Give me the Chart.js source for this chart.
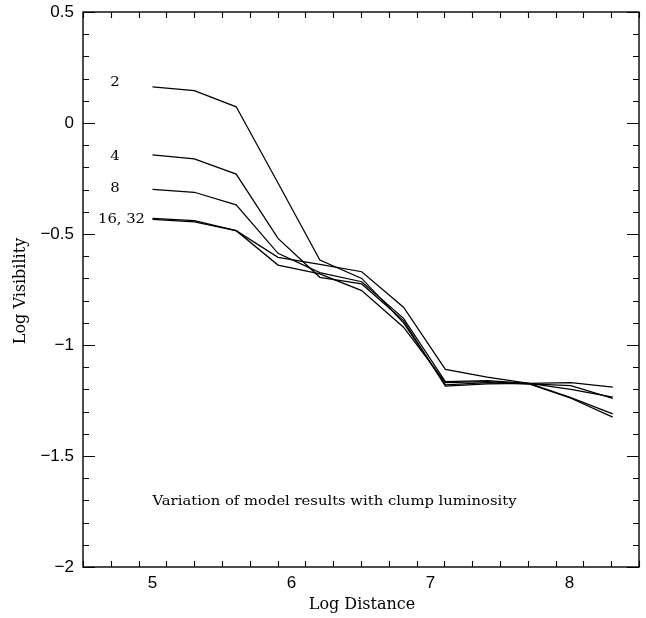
<!DOCTYPE html>
<html>
<head>
<meta charset="utf-8">
<script src="https://cdn.jsdelivr.net/npm/chart.js@4.4.1/dist/chart.umd.min.js"></script>
<style>
  html, body { margin: 0; padding: 0; background: #ffffff; }
  #wrap { width: 646px; height: 618px; }
</style>
</head>
<body>
<div id="wrap"><canvas id="chart" width="646" height="618"></canvas></div>
<script>
// Log distance sampled in factor-of-two steps
const logDistance = [5.000, 5.301, 5.602, 5.903, 6.204, 6.505, 6.806, 7.107, 7.408, 7.709, 8.010, 8.311];

// Log visibility for each clump luminosity
const visL2  = [0.163, 0.146, 0.073, -0.270, -0.617, -0.700, -0.900, -1.180, -1.170, -1.175, -1.183, -1.240];
const visL4  = [-0.144, -0.162, -0.230, -0.520, -0.695, -0.725, -0.890, -1.185, -1.175, -1.173, -1.200, -1.235];
const visL8  = [-0.299, -0.312, -0.369, -0.587, -0.674, -0.715, -0.880, -1.165, -1.160, -1.173, -1.237, -1.310];
const visL16 = [-0.430, -0.440, -0.485, -0.605, -0.637, -0.670, -0.830, -1.110, -1.145, -1.173, -1.170, -1.190];
const visL32 = [-0.434, -0.445, -0.485, -0.640, -0.680, -0.755, -0.920, -1.170, -1.165, -1.175, -1.240, -1.325];

// Axis ticks
const xMajorTicks = [5, 6, 7, 8];
const yMajorTicks = [0.5, 0, -0.5, -1, -1.5, -2];

// Curve labels (text and anchor in data units)
const curveLabels = [
  { text: '2',      x: 4.73, y: 0.18 },
  { text: '4',      x: 4.73, y: -0.153 },
  { text: '8',      x: 4.73, y: -0.297 },
  { text: '16, 32', x: 4.73, y: -0.437 }
];
const noteText = 'Variation of model results with clump luminosity';

function toPoints(ys) {
  return logDistance.map((x, i) => ({ x: x, y: ys[i] }));
}

function series(label, ys) {
  return {
    label: label,
    data: toPoints(ys),
    borderColor: '#000000',
    borderWidth: 1.25,
    pointRadius: 0,
    tension: 0,
    fill: false
  };
}

const fmt = v => (v < 0 ? '\u2212' + String(Math.abs(v)) : String(v));

// draws text stretched horizontally to a given width
function fitText(ctx, text, x, y, width) {
  const w = ctx.measureText(text).width;
  ctx.save();
  ctx.translate(x, y);
  ctx.scale(width / w, 1);
  ctx.fillText(text, 0, 0);
  ctx.restore();
}

const framePlugin = {
  id: 'frame',
  afterDraw(chart) {
    const ctx = chart.ctx;
    const a = chart.chartArea;
    const xs = chart.scales.x, ys = chart.scales.y;
    ctx.save();
    ctx.strokeStyle = '#000';
    ctx.fillStyle = '#000';

    // frame
    ctx.lineWidth = 1.4;
    ctx.strokeRect(a.left, a.top, a.right - a.left, a.bottom - a.top);

    // inward ticks on all four sides
    ctx.lineWidth = 1.1;
    ctx.beginPath();
    for (let i = 0; i <= 20; i++) {
      const v = 4.5 + i * 0.2;
      const px = Math.round(xs.getPixelForValue(v)) + 0.5;
      const major = Math.abs(v - Math.round(v)) < 1e-6;
      const len = major ? 12 : 6;
      ctx.moveTo(px, a.bottom); ctx.lineTo(px, a.bottom - len);
      ctx.moveTo(px, a.top);    ctx.lineTo(px, a.top + len);
    }
    for (let i = 0; i <= 25; i++) {
      const v = -2 + i * 0.1;
      const py = Math.round(ys.getPixelForValue(v)) + 0.5;
      const major = Math.abs(v * 2 - Math.round(v * 2)) < 1e-6;
      const len = major ? 12 : 6;
      ctx.moveTo(a.left, py);  ctx.lineTo(a.left + len, py);
      ctx.moveTo(a.right, py); ctx.lineTo(a.right - len, py);
    }
    ctx.stroke();

    // tick labels
    ctx.font = '17px "Liberation Sans", Arial, sans-serif';
    ctx.textBaseline = 'middle';
    ctx.textAlign = 'right';
    yMajorTicks.forEach(v => {
      ctx.fillText(fmt(v), a.left - 9, ys.getPixelForValue(v));
    });
    ctx.textAlign = 'center';
    xMajorTicks.forEach(v => {
      ctx.fillText(fmt(v), xs.getPixelForValue(v), a.bottom + 16);
    });

    // axis titles
    ctx.font = '16px "DejaVu Serif", serif';
    ctx.fillText('Log Distance', (a.left + a.right) / 2 + 1, a.bottom + 38);
    ctx.save();
    ctx.translate(21, 291);
    ctx.rotate(-Math.PI / 2);
    ctx.fillText('Log Visibility', 0, 0);
    ctx.restore();

    // curve labels
    ctx.font = '13px "DejaVu Serif", serif';
    ctx.textAlign = 'left';
    curveLabels.forEach(l => {
      const cx = xs.getPixelForValue(l.x);
      const cy = ys.getPixelForValue(l.y);
      if (l.text.length > 1) {
        fitText(ctx, l.text, 98, cy, 47);
      } else {
        const w = ctx.measureText(l.text).width * 1.15;
        fitText(ctx, l.text, cx - w / 2, cy, w);
      }
    });

    // note
    ctx.font = '13px "DejaVu Serif", serif';
    fitText(ctx, noteText, xs.getPixelForValue(5.0), ys.getPixelForValue(-1.705), 364);
    ctx.restore();
  }
};

new Chart(document.getElementById('chart'), {
  type: 'line',
  data: {
    datasets: [
      series('2', visL2),
      series('4', visL4),
      series('8', visL8),
      series('16', visL16),
      series('32', visL32)
    ]
  },
  options: {
    responsive: false,
    animation: false,
    devicePixelRatio: 1,
    layout: { padding: { left: 83, right: 7, top: 12, bottom: 51 } },
    plugins: { legend: { display: false }, tooltip: { enabled: false } },
    scales: {
      x: { type: 'linear', min: 4.5, max: 8.5, display: false },
      y: { type: 'linear', min: -2, max: 0.5, display: false }
    }
  },
  plugins: [framePlugin]
});
</script>
</body>
</html>
